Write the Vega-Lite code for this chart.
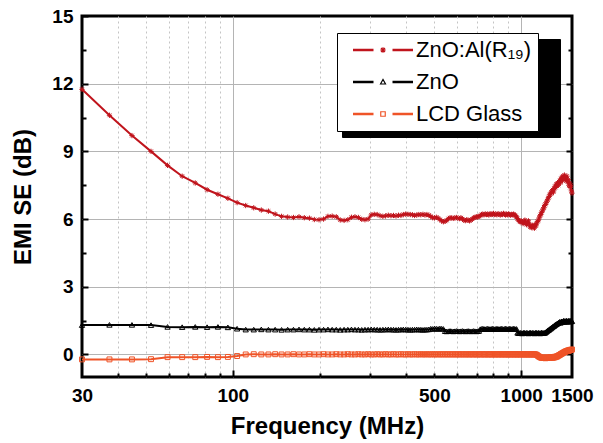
{
  "$schema": "https://vega.github.io/schema/vega-lite/v6.json",
  "width": 490,
  "height": 361,
  "autosize": "none",
  "padding": {"left": 82, "top": 16, "right": 31, "bottom": 66},
  "background": "white",
  "config": {
    "view": {"stroke": "black", "strokeWidth": 3},
    "axis": {
      "labelFont": "Liberation Sans", "labelFontWeight": "bold", "labelFontSize": 19, "labelColor": "black",
      "titleFont": "Liberation Sans", "titleFontWeight": "bold", "titleFontSize": 24, "titleColor": "black",
      "tickColor": "black", "tickWidth": 2, "domain": false, "gridColor": "#b4b4b4", "gridWidth": 1,
      "labelOverlap": false, "labelBound": false, "labelFlush": false
    }
  },
  "data": {"values": [
    {"f":30,"a":11.75,"z":1.3,"g":-0.22},
    {"f":37.35,"a":10.6,"z":1.31,"g":-0.22},
    {"f":44.7,"a":9.7,"z":1.31,"g":-0.22},
    {"f":52.05,"a":9.0,"z":1.3,"g":-0.21},
    {"f":59.4,"a":8.38,"z":1.22,"g":-0.12},
    {"f":66.75,"a":7.9,"z":1.21,"g":-0.12},
    {"f":74.1,"a":7.6,"z":1.22,"g":-0.12},
    {"f":81.45,"a":7.3,"z":1.21,"g":-0.11},
    {"f":88.8,"a":7.1,"z":1.22,"g":-0.12},
    {"f":96.15,"a":6.92,"z":1.2,"g":-0.11},
    {"f":103.5,"a":6.73,"z":1.14,"g":-0.07},
    {"f":110.85,"a":6.6,"z":1.1,"g":0.0},
    {"f":118.2,"a":6.5,"z":1.1,"g":0.01},
    {"f":125.55,"a":6.4,"z":1.11,"g":0.0},
    {"f":132.9,"a":6.35,"z":1.1,"g":0.0},
    {"f":140.25,"a":6.22,"z":1.1,"g":0.01},
    {"f":147.6,"a":6.12,"z":1.09,"g":0.0},
    {"f":154.95,"a":6.09,"z":1.1,"g":0.0},
    {"f":162.3,"a":6.07,"z":1.1,"g":0.01},
    {"f":169.65,"a":6.1,"z":1.11,"g":0.0},
    {"f":177,"a":6.06,"z":1.1,"g":0.0},
    {"f":184.35,"a":6.04,"z":1.1,"g":0.01},
    {"f":191.7,"a":5.98,"z":1.09,"g":0.0},
    {"f":199.05,"a":5.97,"z":1.1,"g":0.0},
    {"f":206.4,"a":6.0,"z":1.1,"g":0.01},
    {"f":213.75,"a":6.12,"z":1.11,"g":0.0},
    {"f":221.1,"a":6.13,"z":1.1,"g":0.0},
    {"f":228.45,"a":6.1,"z":1.1,"g":0.01},
    {"f":235.8,"a":5.96,"z":1.09,"g":0.0},
    {"f":243.15,"a":5.94,"z":1.1,"g":0.0},
    {"f":250.5,"a":5.97,"z":1.1,"g":0.01},
    {"f":257.85,"a":6.08,"z":1.11,"g":0.0},
    {"f":265.2,"a":6.1,"z":1.1,"g":0.0},
    {"f":272.55,"a":6.07,"z":1.1,"g":0.01},
    {"f":279.9,"a":5.99,"z":1.09,"g":0.0},
    {"f":287.25,"a":5.97,"z":1.1,"g":0.0},
    {"f":294.6,"a":6.0,"z":1.1,"g":0.01},
    {"f":301.95,"a":6.18,"z":1.11,"g":0.0},
    {"f":309.3,"a":6.21,"z":1.1,"g":0.0},
    {"f":316.65,"a":6.2,"z":1.1,"g":0.01},
    {"f":324,"a":6.15,"z":1.09,"g":0.0},
    {"f":331.35,"a":6.12,"z":1.1,"g":0.0},
    {"f":338.7,"a":6.14,"z":1.1,"g":0.01},
    {"f":346.05,"a":6.17,"z":1.11,"g":0.0},
    {"f":353.4,"a":6.15,"z":1.1,"g":0.0},
    {"f":360.75,"a":6.16,"z":1.1,"g":0.01},
    {"f":368.1,"a":6.14,"z":1.09,"g":0.0},
    {"f":375.45,"a":6.17,"z":1.1,"g":0.0},
    {"f":382.8,"a":6.16,"z":1.1,"g":0.01},
    {"f":390.15,"a":6.2,"z":1.11,"g":0.0},
    {"f":397.5,"a":6.22,"z":1.1,"g":0.0},
    {"f":404.85,"a":6.21,"z":1.1,"g":0.01},
    {"f":412.2,"a":6.2,"z":1.09,"g":0.0},
    {"f":419.55,"a":6.19,"z":1.1,"g":0.0},
    {"f":426.9,"a":6.16,"z":1.1,"g":0.01},
    {"f":434.25,"a":6.18,"z":1.11,"g":0.0},
    {"f":441.6,"a":6.2,"z":1.1,"g":0.0},
    {"f":448.95,"a":6.19,"z":1.1,"g":0.01},
    {"f":456.3,"a":6.21,"z":1.09,"g":0.0},
    {"f":463.65,"a":6.18,"z":1.1,"g":0.0},
    {"f":471,"a":6.2,"z":1.1,"g":0.01},
    {"f":478.35,"a":6.17,"z":1.11,"g":0.0},
    {"f":485.7,"a":6.12,"z":1.14,"g":0.0},
    {"f":493.05,"a":6.06,"z":1.13,"g":0.01},
    {"f":500.4,"a":6.05,"z":1.15,"g":0.0},
    {"f":507.75,"a":6.08,"z":1.14,"g":0.0},
    {"f":515.1,"a":6.04,"z":1.13,"g":0.01},
    {"f":522.45,"a":5.98,"z":1.15,"g":0.0},
    {"f":529.8,"a":5.92,"z":1.14,"g":0.0},
    {"f":537.15,"a":5.88,"z":1.13,"g":0.01},
    {"f":544.5,"a":5.9,"z":1.03,"g":0.0},
    {"f":551.85,"a":5.94,"z":1.02,"g":0.0},
    {"f":559.2,"a":6.02,"z":1.03,"g":0.01},
    {"f":566.55,"a":6.06,"z":1.04,"g":0.0},
    {"f":573.9,"a":6.05,"z":1.03,"g":0.0},
    {"f":581.25,"a":6.03,"z":1.02,"g":0.01},
    {"f":588.6,"a":6.05,"z":1.03,"g":0.0},
    {"f":595.95,"a":6.07,"z":1.04,"g":0.0},
    {"f":603.3,"a":6.04,"z":1.03,"g":0.01},
    {"f":610.65,"a":6.02,"z":1.02,"g":0.0},
    {"f":618,"a":6.06,"z":1.03,"g":0.0},
    {"f":625.35,"a":6.01,"z":1.04,"g":0.01},
    {"f":632.7,"a":5.95,"z":1.03,"g":0.0},
    {"f":640.05,"a":5.93,"z":1.02,"g":0.0},
    {"f":647.4,"a":5.97,"z":1.03,"g":0.01},
    {"f":654.75,"a":5.95,"z":1.04,"g":0.0},
    {"f":662.1,"a":5.92,"z":1.03,"g":0.0},
    {"f":669.45,"a":5.96,"z":1.02,"g":0.01},
    {"f":676.8,"a":6.0,"z":1.03,"g":0.0},
    {"f":684.15,"a":6.05,"z":1.04,"g":0.0},
    {"f":691.5,"a":6.08,"z":1.03,"g":0.01},
    {"f":698.85,"a":6.1,"z":1.02,"g":0.0},
    {"f":706.2,"a":6.09,"z":1.03,"g":0.0},
    {"f":713.55,"a":6.12,"z":1.04,"g":0.01},
    {"f":720.9,"a":6.15,"z":1.12,"g":0.0},
    {"f":728.25,"a":6.2,"z":1.13,"g":0.0},
    {"f":735.6,"a":6.22,"z":1.14,"g":0.01},
    {"f":742.95,"a":6.19,"z":1.13,"g":0.0},
    {"f":750.3,"a":6.23,"z":1.12,"g":0.0},
    {"f":757.65,"a":6.2,"z":1.13,"g":0.01},
    {"f":765,"a":6.22,"z":1.14,"g":0.0},
    {"f":772.35,"a":6.18,"z":1.13,"g":0.0},
    {"f":779.7,"a":6.24,"z":1.12,"g":0.01},
    {"f":787.05,"a":6.2,"z":1.13,"g":0.0},
    {"f":794.4,"a":6.21,"z":1.14,"g":0.0},
    {"f":801.75,"a":6.25,"z":1.13,"g":0.01},
    {"f":809.1,"a":6.2,"z":1.12,"g":0.0},
    {"f":816.45,"a":6.22,"z":1.13,"g":0.0},
    {"f":823.8,"a":6.19,"z":1.14,"g":0.01},
    {"f":831.15,"a":6.24,"z":1.13,"g":0.0},
    {"f":838.5,"a":6.21,"z":1.12,"g":0.0},
    {"f":845.85,"a":6.18,"z":1.13,"g":0.01},
    {"f":853.2,"a":6.22,"z":1.14,"g":0.0},
    {"f":860.55,"a":6.2,"z":1.13,"g":0.0},
    {"f":867.9,"a":6.25,"z":1.12,"g":0.01},
    {"f":875.25,"a":6.21,"z":1.13,"g":0.0},
    {"f":882.6,"a":6.18,"z":1.14,"g":0.0},
    {"f":889.95,"a":6.22,"z":1.13,"g":0.01},
    {"f":897.3,"a":6.19,"z":1.12,"g":0.0},
    {"f":904.65,"a":6.23,"z":1.13,"g":0.0},
    {"f":912,"a":6.2,"z":1.14,"g":0.01},
    {"f":919.35,"a":6.17,"z":1.13,"g":0.0},
    {"f":926.7,"a":6.21,"z":1.12,"g":0.0},
    {"f":934.05,"a":6.19,"z":1.13,"g":0.01},
    {"f":941.4,"a":6.22,"z":1.14,"g":0.0},
    {"f":948.75,"a":6.18,"z":1.13,"g":0.0},
    {"f":956.1,"a":6.15,"z":1.12,"g":0.01},
    {"f":963.45,"a":6.1,"z":1.13,"g":0.0},
    {"f":970.8,"a":6.02,"z":0.96,"g":0.0},
    {"f":978.15,"a":5.95,"z":0.95,"g":0.01},
    {"f":985.5,"a":5.9,"z":0.94,"g":0.0},
    {"f":992.85,"a":5.88,"z":0.96,"g":0.0},
    {"f":1000.2,"a":5.92,"z":0.95,"g":0.01},
    {"f":1007.55,"a":5.85,"z":0.93,"g":0.0},
    {"f":1014.9,"a":5.8,"z":0.95,"g":0.0},
    {"f":1022.25,"a":5.88,"z":0.97,"g":0.01},
    {"f":1029.6,"a":5.95,"z":0.95,"g":0.0},
    {"f":1036.95,"a":5.82,"z":0.94,"g":0.0},
    {"f":1044.3,"a":5.75,"z":0.96,"g":0.01},
    {"f":1051.65,"a":5.85,"z":0.95,"g":0.0},
    {"f":1059,"a":5.92,"z":0.93,"g":0.0},
    {"f":1066.35,"a":5.78,"z":0.95,"g":0.01},
    {"f":1073.7,"a":5.65,"z":0.97,"g":0.0},
    {"f":1081.05,"a":5.7,"z":0.95,"g":0.0},
    {"f":1088.4,"a":5.62,"z":0.94,"g":0.01},
    {"f":1095.75,"a":5.72,"z":0.96,"g":0.0},
    {"f":1103.1,"a":5.68,"z":0.95,"g":0.0},
    {"f":1110.45,"a":5.6,"z":0.93,"g":0.01},
    {"f":1117.8,"a":5.75,"z":0.95,"g":0.0},
    {"f":1125.15,"a":5.7,"z":0.97,"g":0.0},
    {"f":1132.5,"a":5.82,"z":0.95,"g":-0.02},
    {"f":1139.85,"a":5.9,"z":0.94,"g":-0.05},
    {"f":1147.2,"a":5.95,"z":0.96,"g":-0.08},
    {"f":1154.55,"a":6.05,"z":0.95,"g":-0.1},
    {"f":1161.9,"a":6.15,"z":0.93,"g":-0.12},
    {"f":1169.25,"a":6.2,"z":0.95,"g":-0.14},
    {"f":1176.6,"a":6.3,"z":0.97,"g":-0.15},
    {"f":1183.95,"a":6.35,"z":0.95,"g":-0.13},
    {"f":1191.3,"a":6.45,"z":0.94,"g":-0.16},
    {"f":1198.65,"a":6.5,"z":0.96,"g":-0.14},
    {"f":1206,"a":6.6,"z":0.95,"g":-0.15},
    {"f":1213.35,"a":6.65,"z":0.98,"g":-0.17},
    {"f":1220.7,"a":6.72,"z":1.0,"g":-0.14},
    {"f":1228.05,"a":6.8,"z":1.03,"g":-0.15},
    {"f":1235.4,"a":6.85,"z":1.06,"g":-0.13},
    {"f":1242.75,"a":6.95,"z":1.08,"g":-0.16},
    {"f":1250.1,"a":7.0,"z":1.1,"g":-0.14},
    {"f":1257.45,"a":7.1,"z":1.13,"g":-0.15},
    {"f":1264.8,"a":7.12,"z":1.15,"g":-0.12},
    {"f":1272.15,"a":7.2,"z":1.18,"g":-0.14},
    {"f":1279.5,"a":7.25,"z":1.2,"g":-0.13},
    {"f":1286.85,"a":7.3,"z":1.23,"g":-0.15},
    {"f":1294.2,"a":7.2,"z":1.25,"g":-0.12},
    {"f":1301.55,"a":7.35,"z":1.27,"g":-0.14},
    {"f":1308.9,"a":7.45,"z":1.3,"g":-0.1},
    {"f":1316.25,"a":7.4,"z":1.32,"g":-0.12},
    {"f":1323.6,"a":7.55,"z":1.34,"g":-0.09},
    {"f":1330.95,"a":7.5,"z":1.36,"g":-0.1},
    {"f":1338.3,"a":7.6,"z":1.38,"g":-0.07},
    {"f":1345.65,"a":7.5,"z":1.4,"g":-0.05},
    {"f":1353,"a":7.65,"z":1.42,"g":-0.04},
    {"f":1360.35,"a":7.7,"z":1.45,"g":-0.02},
    {"f":1367.7,"a":7.6,"z":1.4,"g":0.0},
    {"f":1375.05,"a":7.8,"z":1.44,"g":0.02},
    {"f":1382.4,"a":7.85,"z":1.47,"g":0.04},
    {"f":1389.75,"a":7.7,"z":1.43,"g":0.05},
    {"f":1397.1,"a":7.9,"z":1.46,"g":0.07},
    {"f":1404.45,"a":7.8,"z":1.5,"g":0.09},
    {"f":1411.8,"a":7.95,"z":1.45,"g":0.1},
    {"f":1419.15,"a":7.75,"z":1.48,"g":0.12},
    {"f":1426.5,"a":7.85,"z":1.44,"g":0.13},
    {"f":1433.85,"a":7.7,"z":1.5,"g":0.15},
    {"f":1441.2,"a":7.9,"z":1.47,"g":0.14},
    {"f":1448.55,"a":7.65,"z":1.45,"g":0.17},
    {"f":1455.9,"a":7.75,"z":1.5,"g":0.18},
    {"f":1463.25,"a":7.5,"z":1.46,"g":0.16},
    {"f":1470.6,"a":7.6,"z":1.48,"g":0.2},
    {"f":1477.95,"a":7.4,"z":1.5,"g":0.19},
    {"f":1485.3,"a":7.5,"z":1.45,"g":0.21},
    {"f":1492.65,"a":7.25,"z":1.49,"g":0.2},
    {"f":1500,"a":7.15,"z":1.47,"g":0.22}
  ]},
  "transform": [{"fold": ["a", "z", "g"], "as": ["s", "v"]}],
  "resolve": {"axis": {"x": "independent", "y": "independent"}},
  "layer": [
    {
      "mark": {"type": "line", "strokeWidth": 2},
      "encoding": {
        "x": {"field": "f", "type": "quantitative",
          "scale": {"type": "log", "domain": [30, 1500], "nice": false},
          "axis": {"orient": "bottom", "values": [30, 100, 500, 1000, 1500], "labelExpr": "'' + datum.value",
            "ticks": false, "grid": false, "labelPadding": 9, "title": "Frequency (MHz)", "titlePadding": 9}},
        "y": {"field": "v", "type": "quantitative",
          "scale": {"domain": [-1, 15], "nice": false, "zero": false},
          "axis": {"orient": "left", "values": [0, 3, 6, 9, 12, 15], "tickSize": -6, "labelPadding": 15,
            "grid": true, "gridOpacity": {"condition": {"test": "datum.value == 15", "value": 0}, "value": 1},
            "title": "EMI SE (dB)", "titlePadding": 16}},
        "color": {"field": "s", "type": "nominal",
          "scale": {"domain": ["a", "z", "g"], "range": ["#C0141C", "#000000", "#EF5428"]},
          "legend": {
            "orient": "none", "legendX": 255, "legendY": 17, "title": null, "zindex": 2,
            "strokeColor": "black", "fillColor": "white", "padding": 6,
            "symbolSize": 100, "symbolOffset": 29, "labelOffset": 22, "rowPadding": 10,
            "symbolStrokeWidth": 1.2, "symbolOpacity": 1, "symbolFillColor": "transparent",
            "labelFont": "Liberation Sans", "labelFontSize": 22, "labelColor": "black", "labelLimit": 300,
            "labelExpr": "datum.value == 'a' ? 'ZnO:Al(R₁₉)' : datum.value == 'z' ? 'ZnO' : 'LCD Glass'"
          }}
      }
    },
    {
      "transform": [{"filter": "datum.s == 'a'"}],
      "mark": {"type": "point", "filled": false, "size": 28, "strokeWidth": 1, "opacity": 1,
        "shape": "M-1,0H1M0,-1V1M-0.7,-0.7L0.7,0.7M-0.7,0.7L0.7,-0.7"},
      "encoding": {
        "x": {"field": "f", "type": "quantitative",
          "axis": {"orient": "bottom", "values": [100, 1000], "tickSize": -7, "grid": true, "labels": false, "title": null}},
        "y": {"field": "v", "type": "quantitative",
          "axis": {"orient": "left", "values": [1.5, 4.5, 7.5, 10.5, 13.5], "tickSize": -4, "grid": false, "labels": false, "title": null}},
        "color": {"field": "s", "type": "nominal"}
      }
    },
    {
      "transform": [{"filter": "datum.s == 'z'"}],
      "mark": {"type": "point", "filled": false, "size": 28, "strokeWidth": 1, "opacity": 1, "shape": "triangle-up"},
      "encoding": {
        "x": {"field": "f", "type": "quantitative", "axis": null},
        "y": {"field": "v", "type": "quantitative", "axis": null},
        "color": {"field": "s", "type": "nominal"}
      }
    },
    {
      "transform": [{"filter": "datum.s == 'g'"}],
      "mark": {"type": "point", "filled": false, "size": 24, "strokeWidth": 1, "opacity": 1, "shape": "square"},
      "encoding": {
        "x": {"field": "f", "type": "quantitative", "axis": null},
        "y": {"field": "v", "type": "quantitative", "axis": null},
        "color": {"field": "s", "type": "nominal"}
      }
    },
    {
      "transform": [{"filter": "false"}],
      "mark": {"type": "point", "filled": false, "opacity": 1},
      "encoding": {
        "x": {"field": "f", "type": "quantitative", "axis": null},
        "y": {"field": "v", "type": "quantitative", "axis": null},
        "color": {"field": "s", "type": "nominal"},
        "shape": {"field": "s", "type": "nominal",
          "scale": {"domain": ["a", "z", "g"], "range": [
            "M-6,0H-1.9M1.9,0H6M-6,-0.12H-1.9M1.9,-0.12H6M-6,0.12H-1.9M1.9,0.12H6M-0.55,0H0.55M0,-0.55V0.55M-0.4,-0.4L0.4,0.4M-0.4,0.4L0.4,-0.4",
            "M-6,0H-1.9M1.9,0H6M-6,-0.12H-1.9M1.9,-0.12H6M-6,0.12H-1.9M1.9,0.12H6M-0.5,0.4L0,-0.5L0.5,0.4Z",
            "M-6,0H-1.9M1.9,0H6M-6,-0.12H-1.9M1.9,-0.12H6M-6,0.12H-1.9M1.9,0.12H6M-0.45,-0.45H0.45V0.45H-0.45Z"]}}
      }
    },
    {
      "transform": [{"filter": "false"}],
      "mark": {"type": "point", "filled": true, "opacity": 0},
      "encoding": {
        "x": {"field": "f", "type": "quantitative", "axis": null},
        "y": {"field": "v", "type": "quantitative", "axis": null},
        "fill": {"field": "s", "type": "nominal",
          "scale": {"domain": ["g", "z", "a"], "range": ["#000000", "#000000", "#000000"]},
          "legend": {
            "orient": "none", "legendX": 260, "legendY": 23, "title": null, "zindex": 1,
            "strokeColor": "#000000", "fillColor": "#000000", "padding": 6,
            "symbolSize": 100, "symbolOffset": 29, "labelOffset": 155, "rowPadding": 10,
            "symbolOpacity": 0, "labelOpacity": 1,
            "labelFont": "Liberation Sans", "labelFontSize": 22, "labelColor": "#000000", "labelLimit": 300,
            "labelExpr": "''"
          }}
      }
    },
    {
      "mark": {"type": "point", "opacity": 0},
      "encoding": {
        "x": {"field": "f", "type": "quantitative",
          "axis": {"orient": "bottom", "values": [40, 50, 60, 70, 80, 90, 200, 300, 400, 500, 600, 700, 800, 900],
            "tickSize": -4, "grid": true, "gridDash": [2, 3], "gridColor": "#c4c4c4", "labels": false, "title": null}},
        "y": {"field": "v", "type": "quantitative",
          "axis": {"orient": "right", "values": [0, 3, 6, 9, 12], "tickSize": -6, "grid": false, "labels": false, "title": null}}
      }
    },
    {
      "mark": {"type": "point", "opacity": 0},
      "encoding": {
        "x": {"field": "f", "type": "quantitative", "axis": null},
        "y": {"field": "v", "type": "quantitative",
          "axis": {"orient": "right", "values": [1.5, 4.5, 7.5, 10.5, 13.5], "tickSize": -4, "grid": false, "labels": false, "title": null}}
      }
    }
  ]
}
